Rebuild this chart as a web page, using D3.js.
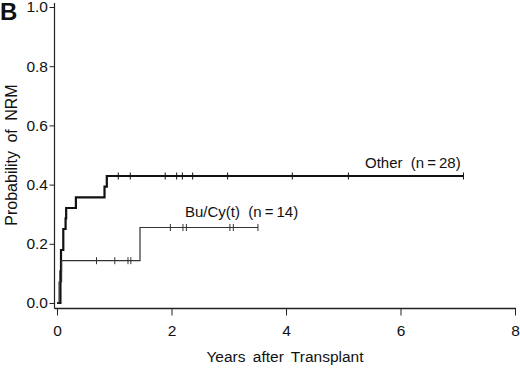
<!DOCTYPE html>
<html lang="en">
<head>
<meta charset="UTF-8">
<title>Probability of NRM</title>
<style>
  body { margin: 0; background: #fff; }
  text { font-family: "Liberation Sans", Arial, Helvetica, sans-serif; fill: #111; }
</style>
</head>
<body>
<script src="https://d3js.org/d3.v7.min.js"></script>
<div id="chart"></div>
<script>
// Kaplan-Meier style step data
const otherTimes = [0, 0.06, 0.07, 0.11, 0.15, 0.16, 0.33, 0.83, 0.87, 7.10];
const otherProb  = [0, 0.107, 0.179, 0.25, 0.286, 0.321, 0.357, 0.393, 0.429, 0.429];
const otherCensor = [1.07, 1.28, 1.89, 2.09, 2.19, 2.37, 2.98, 4.11, 5.09, 7.10];

const buTimes = [0, 0.036, 0.08, 1.45, 3.51];
const buProb  = [0, 0.071, 0.143, 0.255, 0.255];
const buCensor = [0.69, 1.01, 1.24, 1.29, 1.98, 2.20, 2.26, 3.02, 3.08, 3.51];

const xTicks = [0, 2, 4, 6, 8];
const yTicks = [0, 0.2, 0.4, 0.6, 0.8, 1.0];

const width = 520, height = 370;

const svg = d3.select("#chart")
  .append("svg")
    .attr("width", width)
    .attr("height", height);

const x = d3.scaleLinear().domain([0, 8]).range([57, 515]);
const y = d3.scaleLinear().domain([0, 1]).range([303, 7]);

// y axis
const yAxis = svg.append("g")
  .attr("transform", "translate(54.5,0)")
  .call(d3.axisLeft(y).tickValues(yTicks).tickSize(5).tickFormat(d3.format(".1f")));
yAxis.select(".domain").remove();
yAxis.selectAll("line").attr("stroke", "#222");
yAxis.selectAll("text").attr("font-size", 15.5).attr("x", -6.5).style("font-family", null);
svg.append("line")
  .attr("x1", 54.5).attr("x2", 54.5).attr("y1", 3).attr("y2", 308.5)
  .attr("stroke", "#222").attr("stroke-width", 1.2);

// x axis
const xAxis = svg.append("g")
  .attr("transform", "translate(0,308.5)")
  .call(d3.axisBottom(x).tickValues(xTicks).tickSize(7).tickFormat(d3.format("d")));
xAxis.select(".domain").remove();
xAxis.selectAll("line").attr("stroke", "#222");
xAxis.selectAll("text").attr("font-size", 15.5).attr("y", 16).style("font-family", null);
svg.append("line")
  .attr("x1", 54.5).attr("x2", 516).attr("y1", 308.5).attr("y2", 308.5)
  .attr("stroke", "#222").attr("stroke-width", 1.6);

// axis titles
svg.append("text")
  .attr("x", 285).attr("y", 362)
  .attr("text-anchor", "middle")
  .attr("font-size", 15.5)
  .attr("word-spacing", 3)
  .text("Years after Transplant");

svg.append("text")
  .attr("transform", "translate(17,155) rotate(-90)")
  .attr("text-anchor", "middle")
  .attr("font-size", 16)
  .attr("word-spacing", 4)
  .text("Probability of NRM");

svg.append("text")
  .attr("x", 0).attr("y", 20)
  .attr("font-size", 24)
  .attr("font-weight", "bold")
  .text("B");

// curves
const step = d3.line()
  .x(d => x(d[0]))
  .y(d => y(d[1]))
  .curve(d3.curveStepAfter);

function probAt(times, probs, t) {
  let p = 0;
  times.forEach((tt, i) => { if (tt <= t) p = probs[i]; });
  return p;
}

function drawCurve(times, probs, censor, sw, color, tickW) {
  svg.append("path")
    .datum(d3.zip(times, probs))
    .attr("fill", "none")
    .attr("stroke", color)
    .attr("stroke-width", sw)
    .attr("d", step);
  svg.selectAll(null)
    .data(censor)
    .join("line")
      .attr("x1", d => x(d)).attr("x2", d => x(d))
      .attr("y1", d => y(probAt(times, probs, d)) - 3.5)
      .attr("y2", d => y(probAt(times, probs, d)) + 3.5)
      .attr("stroke", color)
      .attr("stroke-width", tickW);
}

drawCurve(otherTimes, otherProb, otherCensor, 2.2, "#111", 1);
drawCurve(buTimes, buProb, buCensor, 1.2, "#333", 1);

// curve labels
svg.append("text")
  .attr("x", 365).attr("y", 168)
  .attr("font-size", 15)
  .attr("xml:space", "preserve")
  .text("Other  (n\u2009=\u200928)");

svg.append("text")
  .attr("x", 185).attr("y", 217)
  .attr("font-size", 15)
  .attr("xml:space", "preserve")
  .text("Bu/Cy(t)  (n\u2009=\u200914)");
</script>
</body>
</html>
